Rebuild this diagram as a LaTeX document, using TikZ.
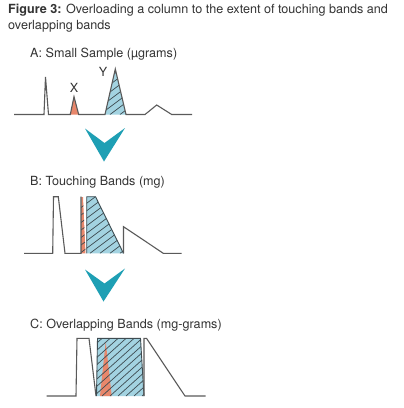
\documentclass[tikz,border=0pt]{standalone}
\usepackage{fontspec}
\setmainfont{TeX Gyre Heros}
\definecolor{bluefill}{HTML}{A3D3E1}
\definecolor{orangefill}{HTML}{E8876B}
\definecolor{tealarrow}{HTML}{1E9FB4}
\definecolor{linegray}{HTML}{5A5A5A}
\definecolor{hatchgray}{HTML}{3E4C52}
\definecolor{textgray}{HTML}{333333}
\begin{document}
\begin{tikzpicture}[x=1pt,y=-1pt,
  trace/.style={draw=linegray, line width=1.1pt, line join=miter},
  edge/.style={draw=hatchgray, line width=0.9pt, line join=miter},
  hatchline/.style={draw=hatchgray, line width=0.7pt},
  label/.style={anchor=base west, inner sep=0pt, text=textgray, font=\fontsize{12.6}{15}\selectfont},
  arrowshape/.style={fill=tealarrow, draw=none}]
\useasboundingbox (0,0) rectangle (404,408);
\fill[white] (0,0) rectangle (404,408);

% title and labels
\node[label] (t1) at (8,13.3) {\textbf{Figure 3:} Overloading a column to the extent of touching bands and};
\node[label] (t2) at (8,29.3) {overlapping bands};
\node[label] (la) at (30,57.5) {A: Small Sample (µgrams)};
\node[label] (lb) at (30,185) {B: Touching Bands (mg)};
\node[label] (lc) at (30,328.3) {C: Overlapping Bands (mg-grams)};

% ---------- Panel A ----------
\fill[orangefill] (70.3,114.5) -- (74,96.7) -- (78.7,114.5) -- cycle;
\fill[bluefill] (105,114.5) -- (115.3,69) -- (126,114.5) -- cycle;
\begin{scope}
  \clip (105,114.5) -- (115.3,69) -- (126,114.5) -- cycle;
  \foreach \k in {0,...,14} {
    \draw[hatchline] (60+\k*10,114.5) -- ++(100,-75);
  }
\end{scope}
\draw[trace] (14,114.5) -- (44,114.5) -- (45.5,77) -- (48.5,114.5) -- (70.3,114.5)
  -- (74,96.7) -- (78.7,114.5) -- (105,114.5) -- (115.3,69) -- (126,114.5)
  -- (145,114.5) -- (156.7,105) -- (171.7,114.5) -- (192,114.5);
\node[label, anchor=base] (lx) at (74,92) {X};
\node[label, anchor=base] (ly) at (103,76) {Y};

% arrow 1
\fill[arrowshape] (85,128.5) -- (104.5,143) -- (125,128) -- (104,161.5) -- cycle;

% ---------- Panel B ----------
\fill[orangefill] (81,253.3) -- (81.3,197) -- (83,197) -- (85.5,253.3) -- cycle;
\fill[bluefill] (86.7,253.3) -- (86.7,196.7) -- (95.5,196.7) -- (123.5,253.3) -- cycle;
\begin{scope}
  \clip (81,253.3) -- (81.3,197) -- (83,197) -- (85.5,253.3) -- cycle
        (86.7,253.3) -- (86.7,196.7) -- (95.5,196.7) -- (123.5,253.3) -- cycle;
  \foreach \k in {0,...,16} {
    \draw[hatchline] (20+\k*10,253.3) -- ++(120,-90);
  }
\end{scope}
\draw[trace] (24,253.3) -- (52.7,253.3) -- (53.5,196.7) -- (58.3,196.7) -- (65,253.3) -- (81,253.3) -- (81,196.7);
\draw[edge] (86.7,253.3) -- (86.7,196.7) -- (95.5,196.7) -- (123.5,253.3);
\draw[trace] (123.5,253.3) -- (123.5,226.7) -- (163.3,253.3) -- (181.7,253.3);

% arrow 2
\fill[arrowshape] (85,269.5) -- (104.5,283.5) -- (125,268.5) -- (103.5,301.5) -- cycle;

% ---------- Panel C ----------
\fill[bluefill] (96.5,396) -- (97.5,338.3) -- (140.5,338.3) -- (144,396) -- cycle;
\fill[orangefill] (100,396) -- (105.7,341.7) -- (111.7,396) -- cycle;
\begin{scope}
  \clip (96.5,396) -- (97.5,338.3) -- (140.5,338.3) -- (144,396) -- cycle;
  \foreach \k in {0,...,16} {
    \draw[hatchline] (30+\k*8,396) -- ++(100,-90);
  }
\end{scope}
\draw[trace] (46.7,396) -- (76,396) -- (77,338.3) -- (89,338.3) -- (96,396);
\draw[edge] (96.5,396) -- (97.5,338.3) -- (140.5,338.3) -- (144,396);
\draw[trace] (144,396) -- (144,338.3) -- (146.5,338.3) -- (185,396) -- (205.7,396);
\end{tikzpicture}
\end{document}
